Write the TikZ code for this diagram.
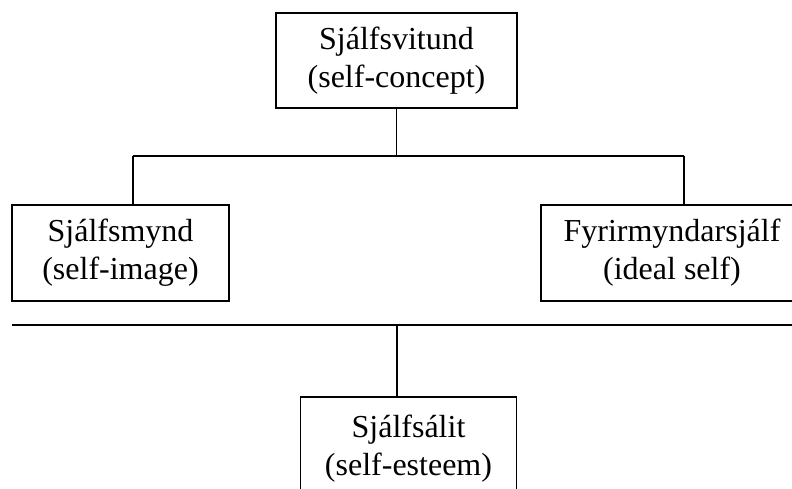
\documentclass[tikz,border=0pt]{standalone}
\usepackage{fontspec}
\setmainfont{Liberation Serif}
\begin{document}
\begin{tikzpicture}[x=1pt,y=1pt,
  box/.style={draw,line width=1.6pt,align=center,inner sep=0pt,
    font=\fontsize{32}{38}\selectfont},
  conn/.style={line width=1.6pt}]
\useasboundingbox (0,0) rectangle (792,488);
\clip (0,0) rectangle (792,488);
\node[box,minimum width=241pt,minimum height=95pt] (top) at (396.5,427.5) {Sjálfsvitund\\(self-concept)};
\node[box,minimum width=217pt,minimum height=96pt] (left) at (120.5,235) {Sjálfsmynd\\(self-image)};
\node[box,minimum width=262pt,minimum height=96pt] (right) at (672,235) {Fyrirmyndarsjálf\\(ideal self)};
\node[box,minimum width=216pt,minimum height=104pt] (bottom) at (408.5,39) {Sjálfsálit\\(self-esteem)};
\coordinate (b1l) at (133,332);
\coordinate (b1r) at (684,332);
\coordinate (b2l) at (12,163);
\coordinate (b2r) at (800,163);
\coordinate (b2m) at (396.7,163);
\draw[conn] (top.south) -- (top.south |- b1l);
\draw[conn] (b1l) -- (b1r);
\draw[conn] (b1l) -- (b1l |- left.north);
\draw[conn] (b1r) -- (b1r |- right.north);
\draw[conn] (b2l) -- (b2r);
\draw[conn] (b2m) -- (b2m |- bottom.north);
\end{tikzpicture}
\end{document}
